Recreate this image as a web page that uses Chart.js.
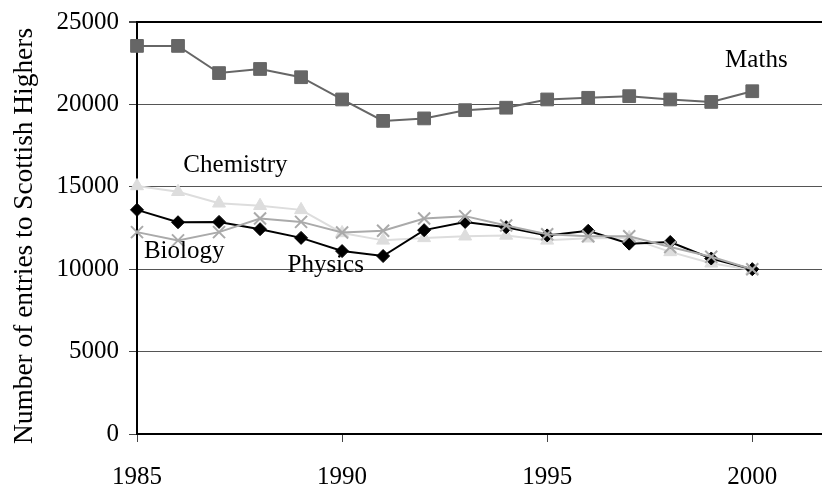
<!DOCTYPE html>
<html>
<head>
<meta charset="utf-8">
<script src="https://cdn.jsdelivr.net/npm/chart.js@4.4.1/dist/chart.umd.min.js"></script>
<style>
  html, body { margin: 0; padding: 0; background: #fff; }
</style>
</head>
<body>
<canvas id="chart" width="822" height="484"></canvas>
<script>
const years = [1985, 1986, 1987, 1988, 1989, 1990, 1991, 1992, 1993, 1994, 1995, 1996, 1997, 1998, 1999, 2000];
const maths = [23550, 23550, 21900, 22150, 21650, 20300, 19000, 19150, 19650, 19800, 20300, 20400, 20500, 20300, 20150, 20800];
const chemistry = [15050, 14700, 14000, 13850, 13600, 12200, 11750, 11900, 12000, 12050, 11750, 11880, 11900, 11050, 10360, 9950];
const physics = [13600, 12850, 12870, 12430, 11900, 11100, 10800, 12370, 12870, 12550, 12050, 12330, 11550, 11650, 10650, 10000];
const biology = [12250, 11750, 12250, 13080, 12870, 12230, 12330, 13080, 13220, 12650, 12120, 12000, 12000, 11350, 10750, 10000];
const xTicks = [1985, 1990, 1995, 2000];
const yTicks = [0, 5000, 10000, 15000, 20000, 25000];
const yTitle = "Number of entries to Scottish Highers";

// series names written inside the plot, placed in data units
const seriesNotes = [
  { text: "Maths", x: 2000.1, y: 22650 },
  { text: "Chemistry", x: 1987.4, y: 16300 },
  { text: "Biology", x: 1986.15, y: 11050 },
  { text: "Physics", x: 1989.6, y: 10250 },
];

const serif = '"Liberation Serif", "Times New Roman", serif';

const toPoints = (values) => values.map((v, i) => ({ x: years[i], y: v }));

const notesPlugin = {
  id: "notes",
  afterDatasetsDraw(chart) {
    const { ctx, scales } = chart;
    ctx.save();
    ctx.font = "25px " + serif;
    ctx.fillStyle = "#000";
    ctx.textAlign = "center";
    ctx.textBaseline = "middle";
    seriesNotes.forEach((n) => {
      ctx.fillText(n.text, scales.x.getPixelForValue(n.x), scales.y.getPixelForValue(n.y));
    });
    // axis title, drawn by hand so it can sit a bit below the middle like the original
    ctx.translate(25, 236);
    ctx.rotate(-Math.PI / 2);
    ctx.font = "27.4px " + serif;
    ctx.fillText(yTitle, 0, 0);
    ctx.restore();
  },
};

new Chart(document.getElementById("chart"), {
  type: "line",
  data: {
    datasets: [
      {
        label: "Biology",
        data: toPoints(biology),
        borderColor: "#aaaaaa",
        borderWidth: 2,
        pointStyle: "crossRot",
        pointRadius: 8.5,
        pointBorderColor: "#aaaaaa",
        pointBorderWidth: 2,
        pointBackgroundColor: "#aaaaaa",
      },
      {
        label: "Physics",
        data: toPoints(physics),
        borderColor: "#000000",
        borderWidth: 2,
        pointStyle: "rectRot",
        pointRadius: 6.5,
        pointBorderColor: "#000000",
        pointBackgroundColor: "#000000",
        pointBorderWidth: 1,
      },
      {
        label: "Chemistry",
        data: toPoints(chemistry),
        borderColor: "#dddddd",
        borderWidth: 2,
        pointStyle: "triangle",
        pointRadius: 7.5,
        pointBorderColor: "#dddddd",
        pointBackgroundColor: "#dddddd",
        pointBorderWidth: 1,
      },
      {
        label: "Maths",
        data: toPoints(maths),
        borderColor: "#666666",
        borderWidth: 2,
        pointStyle: "rect",
        pointRadius: 9,
        pointBorderColor: "#666666",
        pointBackgroundColor: "#666666",
        pointBorderWidth: 1,
      },
    ],
  },
  options: {
    responsive: false,
    animation: false,
    devicePixelRatio: 1,
    clip: false,
    layout: { autoPadding: false, padding: { top: 22, right: 0, bottom: 0, left: 0 } },
    elements: { line: { tension: 0 } },
    plugins: {
      legend: { display: false },
      tooltip: { enabled: false },
    },
    scales: {
      x: {
        type: "linear",
        min: 1985,
        max: 2001.7,
        afterBuildTicks: (scale) => {
          scale.ticks = xTicks.map((v) => ({ value: v }));
        },
        afterFit: (scale) => {
          scale.height = 50;
          scale.paddingLeft = 0;
          scale.paddingRight = 0;
        },
        grid: { drawOnChartArea: false, drawTicks: true, tickLength: 8, tickColor: "#444" },
        border: { color: "#000", width: 2 },
        ticks: {
          color: "#000",
          font: { family: serif, size: 25 },
          padding: 20,
          maxRotation: 0,
          callback: (v) => String(v),
        },
      },
      y: {
        min: 0,
        max: 25000,
        afterBuildTicks: (scale) => {
          scale.ticks = yTicks.map((v) => ({ value: v }));
        },
        afterFit: (scale) => {
          scale.width = 137;
          scale.paddingTop = 0;
          scale.paddingBottom = 0;
        },
        grid: {
          color: (c) => (c.tick && c.tick.value === 25000 ? "#000" : "#555"),
          lineWidth: (c) => (c.tick && c.tick.value === 25000 ? 2 : 1),
          tickLength: 8,
          tickColor: "#444",
        },
        border: { color: "#000", width: 2 },
        ticks: {
          color: "#000",
          font: { family: serif, size: 25 },
          padding: 10,
          callback: (v) => String(v),
        },
      },
    },
  },
  plugins: [notesPlugin],
});
</script>
</body>
</html>
